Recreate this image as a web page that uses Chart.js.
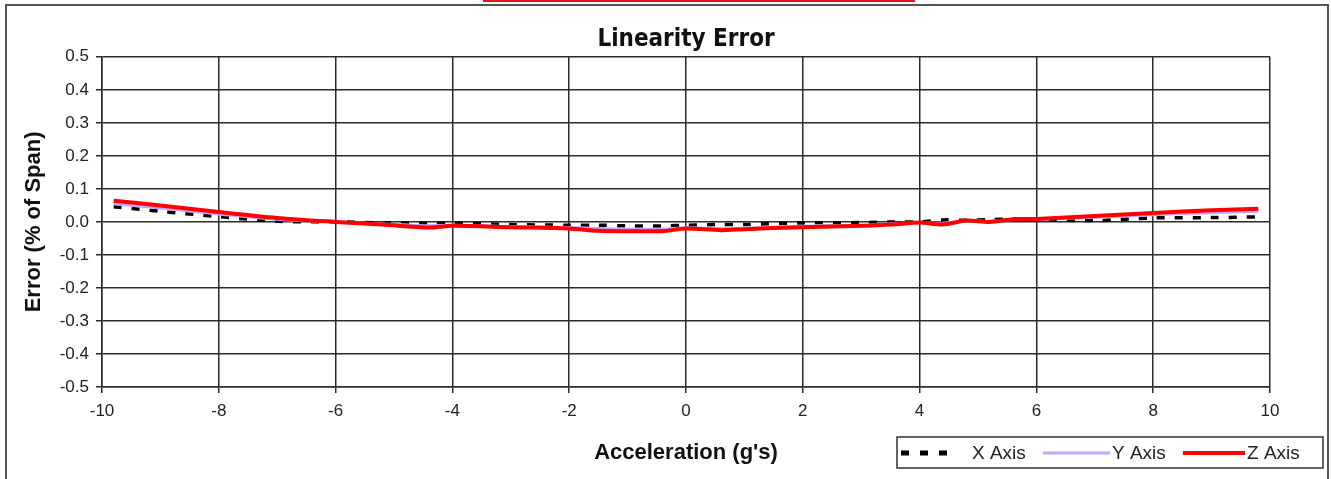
<!DOCTYPE html>
<html>
<head>
<meta charset="utf-8">
<script src="https://cdn.jsdelivr.net/npm/chart.js@4/dist/chart.umd.min.js"></script>
<style>
html,body{margin:0;padding:0;background:#fff;}
#wrap{position:relative;width:1331px;height:479px;}
canvas{display:block;}
</style>
</head>
<body>
<div id="wrap"><canvas id="c" width="1331" height="479"></canvas></div>
<script>
// ---- data ----
const chartTitle = 'Linearity Error';
const xAxisTitle = "Acceleration (g's)";
const yAxisTitle = 'Error (% of Span)';
const seriesLabels = ['X Axis', 'Y Axis', 'Z Axis'];
const xTicks = [-10, -8, -6, -4, -2, 0, 2, 4, 6, 8, 10];
const yTicks = [-0.5, -0.4, -0.3, -0.2, -0.1, 0.0, 0.1, 0.2, 0.3, 0.4, 0.5];
const accel = [-9.8, -9, -8, -7, -6, -5.2, -4.4, -4, -3, -2, -1.5, -1, -0.4, 0, 0.6, 1, 2, 3, 3.6, 4, 4.4, 4.8, 5.2, 5.6, 6, 7, 8, 9, 9.8];
const xAxisErr = [0.046, 0.032, 0.016, 0.002, 0.0, -0.003, -0.005, -0.004, -0.008, -0.010, -0.010, -0.012, -0.012, -0.010, -0.008, -0.008, -0.003, -0.002, 0.0, 0.0, 0.006, 0.005, 0.007, 0.009, 0.008, 0.004, 0.012, 0.013, 0.015];
const yAxisErr = [0.055, 0.042, 0.024, 0.008, 0.0, -0.006, -0.012, -0.010, -0.014, -0.017, -0.020, -0.022, -0.022, -0.018, -0.020, -0.019, -0.013, -0.010, -0.005, -0.002, -0.004, 0.003, 0.002, 0.007, 0.008, 0.014, 0.022, 0.028, 0.032];
const zAxisErr = [0.064, 0.050, 0.030, 0.012, 0.0, -0.008, -0.017, -0.012, -0.016, -0.020, -0.027, -0.028, -0.028, -0.020, -0.025, -0.022, -0.016, -0.012, -0.007, -0.002, -0.008, 0.004, 0.0, 0.008, 0.009, 0.018, 0.027, 0.035, 0.040];

const toPts = arr => arr.map((v, i) => ({x: accel[i], y: v}));

const frame = {
  id: 'frame',
  beforeDraw(chart) {
    const ctx = chart.ctx;
    ctx.save();
    ctx.fillStyle = '#fff';
    ctx.fillRect(0, 0, chart.width, chart.height);
    ctx.strokeStyle = '#555';
    ctx.lineWidth = 2;
    ctx.strokeRect(6, 5, 1322, 480);
    ctx.fillStyle = '#e8141b';
    ctx.fillRect(483, 0, 432, 2);
    ctx.restore();
  }
};

const customLegend = {
  id: 'customLegend',
  afterDraw(chart) {
    const ctx = chart.ctx;
    ctx.save();
    ctx.strokeStyle = '#333';
    ctx.lineWidth = 1.5;
    ctx.strokeRect(897, 437, 426, 31);
    ctx.font = '19px "Liberation Sans", Arial, sans-serif';
    ctx.fillStyle = '#222';
    ctx.textBaseline = 'middle';
    const y = 453;
    const layout = [
      {x0: 901, x1: 957, tx: 972},
      {x0: 1043, x1: 1110, tx: 1112},
      {x0: 1183, x1: 1245, tx: 1247}
    ];
    chart.data.datasets.forEach((ds, i) => {
      const L = layout[i];
      ctx.beginPath();
      ctx.strokeStyle = ds.borderColor;
      ctx.lineWidth = i === 0 ? 5 : ds.borderWidth;
      ctx.setLineDash(i === 0 ? [8, 11] : []);
      ctx.moveTo(L.x0, y);
      ctx.lineTo(L.x1, y);
      ctx.stroke();
      ctx.setLineDash([]);
      ctx.fillText(ds.label, L.tx, y + 1);
    });
    ctx.restore();
  }
};

const gridColor = '#2b2b2b';
const tickFont = {family: '"Liberation Sans", Arial, sans-serif', size: 17};
const axisTitleFont = {family: '"Liberation Sans", Arial, sans-serif', size: 22, weight: 'bold'};
new Chart(document.getElementById('c'), {
  type: 'line',
  data: {
    datasets: [
      {label: seriesLabels[0], data: toPts(xAxisErr), borderColor: '#000', borderWidth: 3.5, borderDash: [8, 10], pointRadius: 0, tension: 0.3, order: 3, fill: false},
      {label: seriesLabels[1], data: toPts(yAxisErr), borderColor: '#c7a3ff', borderWidth: 3, pointRadius: 0, tension: 0.3, order: 2, fill: false},
      {label: seriesLabels[2], data: toPts(zAxisErr), borderColor: '#ff0000', borderWidth: 4, pointRadius: 0, tension: 0.3, order: 1, fill: false}
    ]
  },
  options: {
    responsive: false,
    animation: false,
    layout: {padding: {left: 8, right: 61, top: 4, bottom: 12}},
    plugins: {
      legend: {display: false},
      tooltip: {enabled: false},
      title: {
        display: true,
        text: chartTitle,
        fullSize: false,
        color: '#111',
        font: {family: '"Liberation Sans Narrow", "DejaVu Sans Condensed", Arial, sans-serif', size: 24, weight: 'bold'},
        padding: {top: 21, bottom: 3}
      }
    },
    scales: {
      x: {
        type: 'linear',
        min: -10, max: 10,
        afterBuildTicks: s => { s.ticks = xTicks.map(v => ({value: v})); },
        afterFit: s => { s.height = 80; },
        grid: {color: gridColor, lineWidth: 1.5, tickLength: 6, tickColor: gridColor},
        border: {color: gridColor, width: 1.5},
        ticks: {color: '#222', padding: 8, maxRotation: 0, font: tickFont, callback: v => String(v)},
        title: {display: true, text: xAxisTitle, color: '#111', font: axisTitleFont, padding: {top: 0, bottom: 1}}
      },
      y: {
        type: 'linear',
        min: -0.5, max: 0.5,
        afterBuildTicks: s => { s.ticks = yTicks.map(v => ({value: v})); },
        afterFit: s => { s.width = 94; },
        grid: {color: gridColor, lineWidth: 1.5, tickLength: 6, tickColor: gridColor},
        border: {color: gridColor, width: 1.5},
        ticks: {color: '#222', padding: 7, font: tickFont, callback: v => v.toFixed(1)},
        title: {display: true, text: yAxisTitle, color: '#111', font: axisTitleFont, padding: {top: 13, bottom: 0}}
      }
    }
  },
  plugins: [frame, customLegend]
});
</script>
</body>
</html>
